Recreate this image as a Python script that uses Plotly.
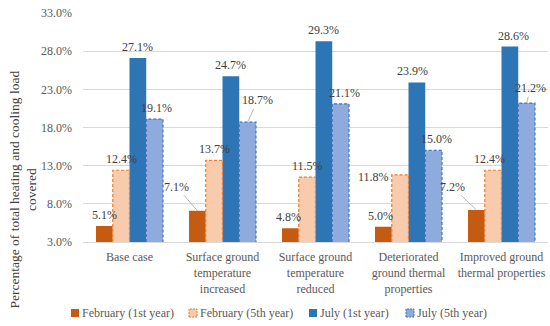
import plotly.graph_objects as go
import numpy as np

categories = ["Base case",
              "Surface ground<br>temperature<br>increased",
              "Surface ground<br>temperature<br>reduced",
              "Deteriorated<br>ground thermal<br>properties",
              "Improved ground<br>thermal properties"]
feb_1st = [5.1, 7.1, 4.8, 5.0, 7.2]
feb_5th = [12.4, 13.7, 11.5, 11.8, 12.4]
jul_1st = [27.1, 24.7, 29.3, 23.9, 28.6]
jul_5th = [19.1, 18.7, 21.1, 15.0, 21.2]
series_names = ["February (1st year)", "February (5th year)", "July (1st year)", "July (5th year)"]
y_ticks = [3, 8, 13, 18, 23, 28, 33]

# styles
fills = ["#C55A11", "#F8CBAD", "#2E75B6", "#8FAADC"]
borders = [None, "#ED7D31", None, "#4472C4"]
bar_w = 0.18
offsets = [-0.36, -0.18, 0.0, 0.18]
FONT = "Liberation Serif"
W, H = 550, 326
ML, MR, MT, MB = 83, 2, 13, 84
PW, PH = W - ML - MR, H - MT - MB
legend_swatch_px = [71, 189, 309, 406]   # left edge of legend swatches (px)
legend_y_px = 313
ytitle_center_px = (22.5, 190)

all_series = [feb_1st, feb_5th, jul_1st, jul_5th]
xs = np.arange(len(categories))

fig = go.Figure()
for s, vals in enumerate(all_series):
    fig.add_trace(go.Bar(
        x=xs, y=vals, name=series_names[s], width=bar_w, offset=offsets[s],
        marker=dict(color=fills[s], line=dict(width=0)),
        hoverinfo="skip", showlegend=False))

# dashed outlines for 5th-year series
for s, vals in enumerate(all_series):
    if borders[s] is None:
        continue
    ox, oy = [], []
    for i, v in enumerate(vals):
        l = xs[i] + offsets[s]
        r = l + bar_w
        ox += [l, l, r, r, None]
        oy += [y_ticks[0], v, v, y_ticks[0], None]
    fig.add_trace(go.Scatter(x=ox, y=oy, mode="lines", showlegend=False,
                             line=dict(color=borders[s], width=1.2, dash="3px,2px"),
                             hoverinfo="skip"))

# data labels
label_style = {
    (0, 1): dict(arrow=(-21, -24)),
    (0, 4): dict(arrow=(-24, -23)),
    (3, 1): dict(arrow=(10, -22)),
    (3, 4): dict(arrow=(4, -15)),
    (1, 3): dict(xshift=-27, yshift=-2),
}
small_dx = {(3, 0): 2, (3, 2): 4, (3, 3): 3, (2, 3): -4, (2, 4): 4, (1, 4): -4,
            (0, 2): -2, (0, 3): -3}
for s, vals in enumerate(all_series):
    for i, v in enumerate(vals):
        cx = xs[i] + offsets[s] + bar_w / 2
        st = label_style.get((s, i), {})
        txt = f"{v:.1f}%"
        if "arrow" in st:
            ax, ay = st["arrow"]
            fig.add_annotation(x=cx, y=v, text=txt, showarrow=True, ax=ax, ay=ay,
                               arrowhead=0, arrowwidth=0.8, arrowcolor="#A6A6A6",
                               standoff=0, startstandoff=0,
                               font=dict(family=FONT, size=12, color="#404040"))
        else:
            fig.add_annotation(x=cx, y=v, text=txt, showarrow=False,
                               xshift=st.get("xshift", small_dx.get((s, i), 0)),
                               yshift=st.get("yshift", 11), yanchor="middle",
                               font=dict(family=FONT, size=12, color="#404040"))

# legend (drawn manually to match compact layout)
def px_to_paper_x(px):
    return (px - ML) / PW

def px_to_paper_y(py):
    return (MT + PH - py) / PH

# y-axis title
fig.add_annotation(xref="paper", yref="paper",
                   x=px_to_paper_x(ytitle_center_px[0]), y=px_to_paper_y(ytitle_center_px[1]),
                   text="Percentage of total heating and cooling load<br>covered",
                   textangle=-90, showarrow=False, xanchor="center", yanchor="middle",
                   font=dict(family=FONT, size=13.5, color="#404040"))

for s in range(4):
    x0 = legend_swatch_px[s]
    fig.add_shape(type="rect", xref="paper", yref="paper",
                  x0=px_to_paper_x(x0), x1=px_to_paper_x(x0 + 8),
                  y0=px_to_paper_y(legend_y_px + 4), y1=px_to_paper_y(legend_y_px - 4),
                  fillcolor=fills[s],
                  line=dict(color=borders[s] or fills[s], width=1 if borders[s] else 0,
                            dash="2px,1px" if borders[s] else "solid"))
    fig.add_annotation(xref="paper", yref="paper", x=px_to_paper_x(x0 + 9),
                       y=px_to_paper_y(legend_y_px), text=series_names[s],
                       showarrow=False, xanchor="left", yanchor="middle",
                       font=dict(family=FONT, size=12, color="#595959"))

fig.update_layout(
    width=W, height=H,
    margin=dict(l=ML, r=MR, t=MT, b=MB),
    paper_bgcolor="white", plot_bgcolor="white",
    barmode="overlay",
    font=dict(family=FONT, size=12, color="#595959"),
    showlegend=False,
    xaxis=dict(range=[-0.5, 4.5], tickvals=list(xs), ticktext=categories,
               showgrid=False, zeroline=False, showline=True, linecolor="#D9D9D9",
               ticks="", tickfont=dict(family=FONT, size=12, color="#595959"),
               ticklabelstandoff=4),
    yaxis=dict(range=[3, 33], tickvals=y_ticks, ticktext=[f"{t:.1f}%" for t in y_ticks],
               showgrid=True, gridcolor="#D9D9D9", gridwidth=1, zeroline=False,
               ticks="", tickfont=dict(family=FONT, size=12, color="#595959"),
               ticklabelstandoff=10),
)

fig.write_html("out.html", config={"displayModeBar": False},
               post_script="document.body.style.margin='0';")
